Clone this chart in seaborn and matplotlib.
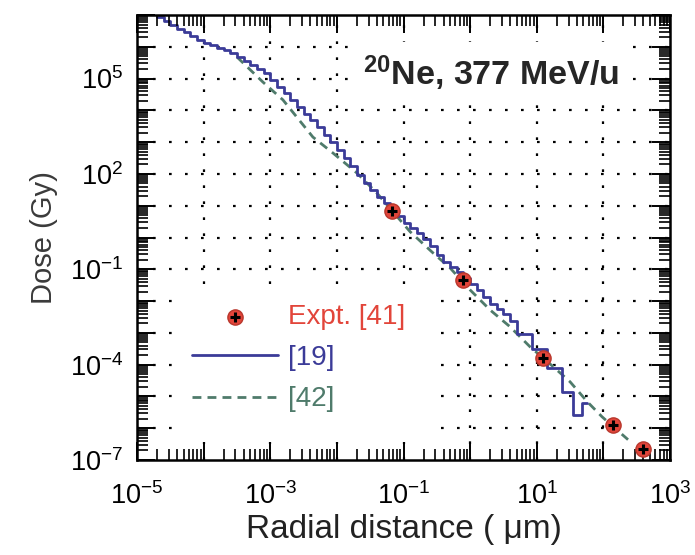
import numpy as np
import pandas as pd
import matplotlib
matplotlib.use('Agg')
import matplotlib.pyplot as plt
import seaborn as sns
from matplotlib.ticker import FixedLocator, FuncFormatter, LogLocator, NullFormatter
from matplotlib.legend_handler import HandlerTuple
from matplotlib.patches import Rectangle

# valores en exponentes log10
# [19] curva escalonada
blue_logr = [-4.70, -4.60, -4.50, -4.40, -4.30, -4.20, -4.10, -4.00, -3.90, -3.80,
             -3.70, -3.60, -3.50, -3.40, -3.30, -3.20, -3.10, -3.00, -2.90, -2.80,
             -2.70, -2.60, -2.50, -2.40, -2.30, -2.20, -2.10, -2.00, -1.90, -1.80,
             -1.70, -1.60, -1.50, -1.40, -1.30, -1.20, -1.10, -1.00, -0.90, -0.80,
             -0.70, -0.60, -0.50, -0.40, -0.30, -0.20, -0.10, 0.00, 0.10, 0.20,
             0.30, 0.40, 0.50, 0.60, 0.71, 0.93, 1.16, 1.38, 1.55, 1.68, 1.76]
blue_logd = [6.95, 6.82, 6.70, 6.57, 6.45, 6.33, 6.21, 6.13, 6.05, 5.97,
             5.89, 5.80, 5.67, 5.54, 5.42, 5.30, 5.16, 4.95, 4.74, 4.54,
             4.33, 4.12, 3.90, 3.69, 3.48, 3.24, 3.00, 2.76, 2.50, 2.24,
             1.98, 1.72, 1.48, 1.28, 1.10, 0.90, 0.68, 0.47, 0.30, 0.14,
             -0.05, -0.27, -0.55, -0.78, -0.93, -1.08, -1.27, -1.46, -1.66, -1.87,
             -2.08, -2.26, -2.42, -2.62, -3.05, -3.50, -4.10, -4.87, -5.58, -5.20, -5.20]

# [42] curva a trazos
green_logr = [-3.50, -3.11, -2.81, -2.36, -2.06, -1.70, -1.40, -0.90, -0.56, -0.30,
              0.00, 0.30, 0.60, 0.90, 1.25, 1.50, 1.76, 1.98, 2.37]
green_logd = [5.68, 4.89, 4.33, 3.16, 2.66, 2.03, 1.40, 0.18, -0.48, -0.96,
              -1.65, -2.28, -2.81, -3.44, -4.07, -4.54, -5.17, -5.64, -6.36]

# Expt. [41]
expt_r = [0.068, 0.78, 12.5, 140.0, 400.0]
expt_d = [6.9, 0.047, 1.6e-4, 1.3e-6, 2.2e-7]

xlab_exp = [-5, -3, -1, 1, 3]
ylab_exp = [-7, -4, -1, 2, 5]

BLUE = '#3b3b98'
GREEN = '#4f7b6b'
RED = '#e2453a'

sns.set_style('ticks')
plt.rcParams['font.family'] = ['Liberation Sans', 'DejaVu Sans']
plt.rcParams['mathtext.fontset'] = 'custom'
plt.rcParams['mathtext.rm'] = 'Liberation Sans'
plt.rcParams['mathtext.it'] = 'Liberation Sans:italic'
plt.rcParams['mathtext.bf'] = 'Liberation Sans:bold'

fig = plt.figure(figsize=(6.95, 5.55), dpi=100)
ax = fig.add_axes([137/695, 1 - 460/555, 533/695, 445/555])
ax.set_xscale('log')
ax.set_yscale('log')
ax.set_xlim(1e-5, 1e3)
ax.set_ylim(1e-7, 1e7)
ax.set_axisbelow(False)

# rejilla punteada en cada decada
for e in range(-4, 3):
    ax.axvline(10.0**e, color='black', lw=1.6, ls=(0, (1.2, 6.0)), zorder=0.5)
for e in range(-6, 7):
    ax.axhline(10.0**e, color='black', lw=1.6, ls=(0, (1.2, 6.0)), zorder=0.5)

# fondo blanco de la leyenda
ax.add_patch(Rectangle((0.066, 0.04), 0.48, 0.35, transform=ax.transAxes,
                       facecolor='white', edgecolor='none', zorder=1))

blue_df = pd.DataFrame({'r': 10.0**np.array(blue_logr), 'dose': 10.0**np.array(blue_logd)})
green_df = pd.DataFrame({'r': 10.0**np.array(green_logr), 'dose': 10.0**np.array(green_logd)})

sns.lineplot(data=green_df, x='r', y='dose', ax=ax, color=GREEN, lw=2.0,
             sort=False, estimator=None, zorder=2)
lg = ax.lines[-1]
lg.set_dashes([3.2, 2.2])
sns.lineplot(data=blue_df, x='r', y='dose', ax=ax, color=BLUE, lw=2.0,
             drawstyle='steps-post', sort=False, estimator=None, zorder=2.2)
lb = ax.lines[-1]

sns.scatterplot(x=expt_r, y=expt_d, ax=ax, marker='o', s=120, color=RED,
                edgecolor='#b8372c', linewidth=1, zorder=3)
sns.scatterplot(x=expt_r, y=expt_d, ax=ax, marker='+', s=45, color='black',
                linewidth=2.2, zorder=4)
c0, c1 = ax.collections[0], ax.collections[1]

# ejes y ticks
ax.xaxis.set_major_locator(FixedLocator([10.0**e for e in range(-5, 4)]))
ax.yaxis.set_major_locator(FixedLocator([10.0**e for e in range(-7, 8)]))
ax.xaxis.set_minor_locator(LogLocator(base=10, subs=np.arange(2, 10), numticks=100))
ax.yaxis.set_minor_locator(LogLocator(base=10, subs=np.arange(2, 10), numticks=100))
ax.xaxis.set_minor_formatter(NullFormatter())
ax.yaxis.set_minor_formatter(NullFormatter())

def fmt_x(v, pos):
    e = int(round(np.log10(v)))
    return r'$10^{%d}$' % e if e in xlab_exp else ''

def fmt_y(v, pos):
    e = int(round(np.log10(v)))
    return r'$10^{%d}$' % e if e in ylab_exp else ''

ax.xaxis.set_major_formatter(FuncFormatter(fmt_x))
ax.yaxis.set_major_formatter(FuncFormatter(fmt_y))
ax.tick_params(which='major', direction='in', length=13, width=1.4, top=True, right=True,
               labelsize=19.5, colors='black')
ax.tick_params(axis='x', which='major', pad=16)
ax.tick_params(axis='y', which='major', pad=10)
ax.tick_params(which='minor', direction='in', length=8, width=1.2, top=True, right=True,
               colors='black')
for s in ax.spines.values():
    s.set_linewidth(1.8)
    s.set_color('black')

ax.set_xlabel('Radial distance ( \u03bcm)', fontsize=24, color='#222222', labelpad=3)
ax.set_ylabel('Dose (Gy)', fontsize=21, color='#3a3a3a', labelpad=8)

ax.text(0.424, 0.843, r'$^{\mathbf{20}}$Ne, 377 MeV/u', transform=ax.transAxes,
        fontsize=24.5, fontweight='bold', va='baseline', ha='left', zorder=5,
        bbox=dict(facecolor='white', edgecolor='none', pad=8))

leg = ax.legend(handles=[(c0, c1), lb, lg], labels=['Expt. [41]', '[19]', '[42]'],
                handler_map={tuple: HandlerTuple(ndivide=1)},
                loc='upper left', bbox_to_anchor=(0.103, 0.351), frameon=False,
                fontsize=20, handlelength=3.1, handletextpad=0.35, labelspacing=0.55,
                borderpad=0, borderaxespad=0)
for t, c in zip(leg.get_texts(), [RED, BLUE, GREEN]):
    t.set_color(c)

fig.savefig('out.png', dpi=100)
